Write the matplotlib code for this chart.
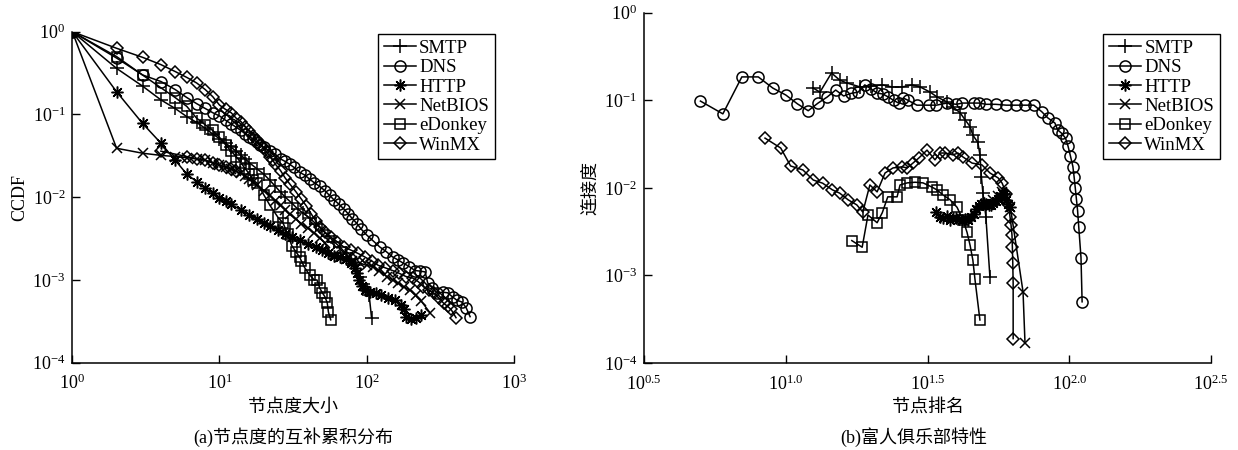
import matplotlib
matplotlib.use('Agg')
import matplotlib.pyplot as plt
import numpy as np
from matplotlib.ticker import FixedLocator, FixedFormatter, NullLocator

plt.rcParams['font.family'] = ['Liberation Serif', 'Noto Sans CJK SC']
plt.rcParams['mathtext.fontset'] = 'custom'
plt.rcParams['mathtext.rm'] = 'Liberation Serif'
plt.rcParams['mathtext.it'] = 'Liberation Serif:italic'

names = ['SMTP', 'DNS', 'HTTP', 'NetBIOS', 'eDonkey', 'WinMX']

# (a) CCDF of node degree
smtp_deg = [1, 2, 3, 4, 5, 6, 7, 8, 9, 10, 11, 12, 13, 14, 15, 16, 18, 20, 22, 24, 26, 28, 31, 34, 37, 41,
            45, 50, 55, 60, 66, 72, 78, 84, 90, 95, 100, 104, 108]
smtp_ccdf = [1, 0.36, 0.22, 0.15, 0.118, 0.094, 0.08, 0.068, 0.058, 0.051, 0.045, 0.04, 0.036, 0.032, 0.029,
             0.026, 0.022, 0.019, 0.016, 0.0135, 0.0115, 0.01, 0.0085, 0.0072, 0.0064, 0.0056, 0.0048, 0.004,
             0.0034, 0.0029, 0.0025, 0.0021, 0.0018, 0.0015, 0.0011, 0.0009, 0.00075, 0.00066, 0.00035]
dns_deg = [1, 2, 3, 4, 5, 6, 7, 8, 9, 10, 11, 12, 13, 14, 15, 16, 17, 18, 19, 20, 22, 24, 26, 28, 30, 32, 35,
           38, 41, 44, 48, 52, 56, 60, 65, 70, 75, 80, 86, 92, 100, 110, 123, 136, 150, 163, 177, 195, 213,
           230, 250, 260, 280, 300, 330, 355, 385, 410, 445, 475, 505]
dns_ccdf = [1, 0.48, 0.30, 0.25, 0.2, 0.16, 0.135, 0.118, 0.105, 0.096, 0.085, 0.077, 0.07, 0.064, 0.058,
            0.054, 0.05, 0.046, 0.043, 0.040, 0.036, 0.033, 0.029, 0.027, 0.025, 0.023, 0.02, 0.0185, 0.0165,
            0.015, 0.0135, 0.012, 0.0105, 0.0093, 0.0082, 0.0072, 0.0063, 0.0055, 0.0048, 0.0041, 0.0035,
            0.003, 0.0025, 0.0022, 0.0019, 0.00175, 0.0016, 0.00145, 0.0013, 0.00128, 0.00125, 0.00092,
            0.0008, 0.0007, 0.00071, 0.0007, 0.00062, 0.00057, 0.00054, 0.00046, 0.00036]
http_deg = [1, 2, 3, 4, 5, 6, 7, 8, 9, 10, 11, 12, 14, 16, 18, 20, 22, 25, 28, 31, 35, 40, 45, 50, 55, 60,
            66, 72, 78, 83, 86, 89, 93, 97, 105, 115, 125, 140, 155, 170, 180, 186, 200, 218, 236]
http_ccdf = [1, 0.188, 0.078, 0.045, 0.028, 0.019, 0.0154, 0.0128, 0.0112, 0.0098, 0.009, 0.0082, 0.007,
             0.0061, 0.0054, 0.0049, 0.0045, 0.004, 0.0036, 0.0033, 0.003, 0.0027, 0.0025, 0.0023, 0.0021,
             0.00195, 0.0019, 0.0018, 0.0016, 0.0014, 0.0012, 0.001, 0.00085, 0.00075, 0.00072, 0.0007,
             0.00066, 0.0006, 0.00057, 0.0005, 0.00044, 0.00036, 0.00034, 0.00035, 0.00038]
netbios_deg = [1, 2, 3, 4, 5, 6, 7, 8, 9, 10, 11, 12, 13, 14, 15, 16, 17, 18, 20, 22, 24, 26, 28, 30, 33,
               36, 40, 44, 48, 52, 56, 60, 66, 72, 80, 90, 100, 110, 122, 137, 150, 163, 180, 198, 215, 236,
               270]
netbios_ccdf = [1, 0.039, 0.034, 0.032, 0.031, 0.03, 0.029, 0.028, 0.026, 0.0245, 0.023, 0.022, 0.0205,
                0.0195, 0.018, 0.0165, 0.0154, 0.014, 0.012, 0.0105, 0.009, 0.008, 0.007, 0.0062, 0.0055,
                0.0048, 0.0042, 0.0037, 0.0032, 0.0028, 0.0022, 0.002, 0.0019, 0.0018, 0.0017, 0.0016,
                0.0015, 0.00145, 0.0013, 0.0011, 0.001, 0.00092, 0.00082, 0.00075, 0.00065, 0.00055, 0.0004]
edonkey_deg = [1, 2, 3, 4, 5, 6, 7, 8, 9, 10, 11, 12, 13, 14, 15, 16, 17, 18, 20, 22, 25, 27, 28, 29, 31,
               33, 35, 36, 38, 41, 44, 46, 48, 50, 52, 54, 55, 57]
edonkey_ccdf = [1, 0.5, 0.3, 0.21, 0.16, 0.125, 0.09, 0.075, 0.064, 0.053, 0.043, 0.036, 0.031, 0.026,
                0.022, 0.019, 0.016, 0.0148, 0.0107, 0.008, 0.0057, 0.0049, 0.0042, 0.0036, 0.0026, 0.0022,
                0.0019, 0.0017, 0.0014, 0.00115, 0.001, 0.001, 0.0008, 0.0007, 0.00063, 0.00053, 0.00041,
                0.00033]
winmx_deg = [1, 2, 3, 4, 5, 6, 7, 8, 9, 10, 11, 12, 13, 14, 15, 16, 17, 18, 19, 20, 21, 22, 23, 24, 26, 28,
             30, 33, 36, 39, 42, 45, 48, 52, 57, 63, 70, 78, 87, 97, 108, 120, 134, 150, 167, 185, 207, 225,
             243, 265, 287, 310, 335, 355, 375, 405]
winmx_ccdf = [1, 0.63, 0.49, 0.40, 0.33, 0.28, 0.24, 0.2, 0.164, 0.13, 0.115, 0.105, 0.09, 0.082, 0.07,
              0.063, 0.055, 0.049, 0.043, 0.039, 0.035, 0.031, 0.028, 0.025, 0.021, 0.017, 0.0145, 0.0117,
              0.0095, 0.0078, 0.0063, 0.0052, 0.0044, 0.0038, 0.0033, 0.0029, 0.0025, 0.0023, 0.0021,
              0.0019, 0.0017, 0.0015, 0.0014, 0.0013, 0.0012, 0.0011, 0.00105, 0.00095, 0.00083, 0.00075,
              0.00069, 0.0006, 0.00052, 0.00048, 0.00044, 0.00035]
# extra diamonds that sit on the NetBIOS curve
winmx_low_deg = [4, 6, 7, 8, 9, 10, 11, 12, 13]
winmx_low_ccdf = [0.036, 0.031, 0.029, 0.028, 0.026, 0.0245, 0.023, 0.022, 0.0205]

# (b) rich-club connectivity vs node rank
smtp_rank = [12.5, 13.2, 14.5, 15.5, 16.4, 18.3, 20, 21.9, 23.7, 25.7, 27.9, 29.8, 32.3, 34.2, 37, 38.9,
             41.2, 42.9, 44.7, 45.7, 47.6, 48.4, 49, 49.6, 50.8, 52.5]
smtp_conn = [0.138, 0.124, 0.205, 0.17, 0.158, 0.142, 0.145, 0.15, 0.142, 0.142, 0.15, 0.142, 0.124, 0.109,
             0.096, 0.084, 0.072, 0.06, 0.05, 0.04, 0.033, 0.024, 0.0133, 0.0087, 0.0047, 0.00096]
dns_rank = [5, 6, 7, 8, 9, 10, 11, 12, 13, 14, 15, 16, 17, 18, 19, 20, 21, 22, 23, 24, 25, 26, 27, 29, 32,
            34, 37, 40, 42, 46, 48, 51, 55, 60, 65, 70, 75, 80, 84, 89, 91, 94, 97, 99, 101, 103, 104, 105,
            106, 107, 108, 110, 111]
dns_conn = [0.098, 0.07, 0.185, 0.185, 0.138, 0.115, 0.091, 0.076, 0.093, 0.109, 0.131, 0.112, 0.12, 0.124,
            0.15, 0.135, 0.121, 0.118, 0.109, 0.1, 0.093, 0.106, 0.1, 0.088, 0.088, 0.088, 0.093, 0.09,
            0.093, 0.093, 0.093, 0.09, 0.09, 0.088, 0.088, 0.088, 0.088, 0.074, 0.063, 0.055, 0.046, 0.042,
            0.037, 0.03, 0.023, 0.0175, 0.0134, 0.01, 0.0074, 0.0055, 0.0036, 0.0016, 0.0005]
http_rank = [34, 35, 36, 37, 38, 39, 40, 41, 42, 43, 44, 45, 46, 47, 48, 49, 50, 51, 52, 53, 54, 55, 56,
             57, 58, 59, 60, 61, 62]
http_conn = [0.0053, 0.0047, 0.0045, 0.0048, 0.0043, 0.0045, 0.0045, 0.0044, 0.0043, 0.0044, 0.0043,
             0.0046, 0.005, 0.0058, 0.0062, 0.0065, 0.0067, 0.0065, 0.0063, 0.0064, 0.0068, 0.007, 0.0075,
             0.008, 0.0087, 0.0085, 0.0073, 0.0065, 0.006]
netbios_rank = [52, 54, 56, 58, 60, 62, 68.7, 69.8]
netbios_conn = [0.0065, 0.0072, 0.008, 0.009, 0.0078, 0.006, 0.00065, 0.00017]
edonkey_rank = [17.1, 18.6, 19.5, 21, 21.9, 22.9, 24.7, 25.3, 26.8, 28.6, 30.5, 32.8, 34.1, 35.9, 38, 40.2,
                42.2, 43.6, 44.7, 45.7, 46.5, 48.4]
edonkey_conn = [0.0025, 0.0021, 0.0049, 0.004, 0.0052, 0.0079, 0.0079, 0.0108, 0.0114, 0.0116, 0.0114,
                0.0102, 0.0095, 0.0083, 0.0073, 0.006, 0.0043, 0.0031, 0.0022, 0.0015, 0.0009, 0.00031]
winmx_rank = [8.45, 9.6, 10.4, 11.5, 12.5, 13.5, 14.6, 15.5, 16.6, 17.8, 18.7, 19.8, 21, 22.4, 23.9, 25.7,
              26.8, 28.1, 29.5, 31.5, 33.6, 35, 36.5, 38.9, 40.5, 42.2, 45.4, 49.2, 52.5, 56.1, 58, 60, 61,
              61.8, 62.3, 62.8, 63.0, 63.2, 63.4, 63.4]
winmx_conn = [0.037, 0.0285, 0.0178, 0.016, 0.0123, 0.0113, 0.0095, 0.0087, 0.0073, 0.0064, 0.0053,
              0.0108, 0.009, 0.0148, 0.0169, 0.0174, 0.0169, 0.0192, 0.022, 0.027, 0.0209, 0.025, 0.025,
              0.0238, 0.025, 0.0225, 0.0192, 0.0183, 0.0148, 0.013, 0.0113, 0.0085, 0.0065, 0.0047, 0.0038,
              0.0029, 0.0021, 0.0014, 0.00082, 0.00019]

styles = {
    'SMTP': dict(marker='+', ms=9.5),
    'DNS': dict(marker='o', ms=8),
    'HTTP': dict(marker=(8, 2, 0), ms=8.5),
    'NetBIOS': dict(marker='x', ms=7.5),
    'eDonkey': dict(marker='s', ms=7.5),
    'WinMX': dict(marker='D', ms=6.5),
}

left_data = {
    'SMTP': (smtp_deg, smtp_ccdf), 'DNS': (dns_deg, dns_ccdf), 'HTTP': (http_deg, http_ccdf),
    'NetBIOS': (netbios_deg, netbios_ccdf), 'eDonkey': (edonkey_deg, edonkey_ccdf),
    'WinMX': (winmx_deg, winmx_ccdf),
}
right_data = {
    'SMTP': (smtp_rank, smtp_conn), 'DNS': (dns_rank, dns_conn), 'HTTP': (http_rank, http_conn),
    'NetBIOS': (netbios_rank, netbios_conn), 'eDonkey': (edonkey_rank, edonkey_conn),
    'WinMX': (winmx_rank, winmx_conn),
}

cn = ['Liberation Serif', 'Noto Sans CJK SC']

fig = plt.figure(figsize=(12.38, 4.5), dpi=100)
ax1 = fig.add_axes([0.0584, 0.194, 0.3566, 0.7356])
ax2 = fig.add_axes([0.5202, 0.1933, 0.458, 0.7784])


def draw_series(ax, data):
    for name in names:
        x, y = data[name]
        st = styles[name]
        ax.plot(x, y, color='k', lw=1.1, marker=st['marker'], ms=st['ms'], mfc='none', mec='k', mew=1.1,
                label=name)


def style_axes(ax):
    ax.set_xscale('log')
    ax.set_yscale('log')
    for s in ['top', 'right']:
        ax.spines[s].set_visible(False)
    for s in ['left', 'bottom']:
        ax.spines[s].set_linewidth(1.1)
    ax.xaxis.set_minor_locator(NullLocator())
    ax.yaxis.set_minor_locator(NullLocator())
    ax.tick_params(direction='in', length=6, width=1, labelsize=13, pad=5)
    ax.tick_params(axis='x', pad=8)
    yt = [1e-4, 1e-3, 1e-2, 1e-1, 1]
    ax.yaxis.set_major_locator(FixedLocator(yt))
    ax.yaxis.set_major_formatter(FixedFormatter([r'$\mathregular{10^{-4}}$', r'$\mathregular{10^{-3}}$',
                                                 r'$\mathregular{10^{-2}}$', r'$\mathregular{10^{-1}}$',
                                                 r'$\mathregular{10^{0}}$']))
    ax.set_ylim(1e-4, 1)


draw_series(ax1, left_data)
ax1.plot(winmx_low_deg, winmx_low_ccdf, color='k', lw=1.1, marker='D', ms=6.5, mfc='none', mec='k', mew=1.1)
style_axes(ax1)
ax1.set_xlim(1, 1000)
ax1.xaxis.set_major_locator(FixedLocator([1, 10, 100, 1000]))
ax1.xaxis.set_major_formatter(FixedFormatter([r'$\mathregular{10^{0}}$', r'$\mathregular{10^{1}}$',
                                              r'$\mathregular{10^{2}}$', r'$\mathregular{10^{3}}$']))
ax1.set_xlabel('节点度大小', fontsize=13, family=cn, labelpad=4)
ax1.set_ylabel('CCDF', fontsize=13, family=cn, labelpad=3)

draw_series(ax2, right_data)
style_axes(ax2)
xe = [0.5, 1.0, 1.5, 2.0, 2.5]
ax2.set_xlim(10 ** 0.5, 10 ** 2.5)
ax2.xaxis.set_major_locator(FixedLocator([10 ** e for e in xe]))
ax2.xaxis.set_major_formatter(FixedFormatter([r'$\mathregular{10^{%.1f}}$' % e for e in xe]))
ax2.set_xlabel('节点排名', fontsize=13, family=cn, labelpad=4)
ax2.set_ylabel('连接度', fontsize=13, family=cn, labelpad=3)

leg_kw = dict(loc='upper left', bbox_transform=fig.transFigure, fontsize=13.5, frameon=True, fancybox=False,
              edgecolor='k', framealpha=1, borderaxespad=0, borderpad=0.3, labelspacing=0.12,
              handlelength=1.7, handletextpad=0.2, numpoints=1)
l1 = ax1.legend(bbox_to_anchor=(378 / 1238, 1 - 34 / 450), **leg_kw)
l2 = ax2.legend(bbox_to_anchor=(1103 / 1238, 1 - 34 / 450), **leg_kw)
for lg in (l1, l2):
    lg.get_frame().set_linewidth(1.0)

fig.text(293 / 1238, 1 - 437 / 450, '(a)节点度的互补累积分布', ha='center', va='center', fontsize=13,
         family=cn)
fig.text(914 / 1238, 1 - 437 / 450, '(b)富人俱乐部特性', ha='center', va='center', fontsize=13, family=cn)

fig.savefig('out.png', dpi=100)
